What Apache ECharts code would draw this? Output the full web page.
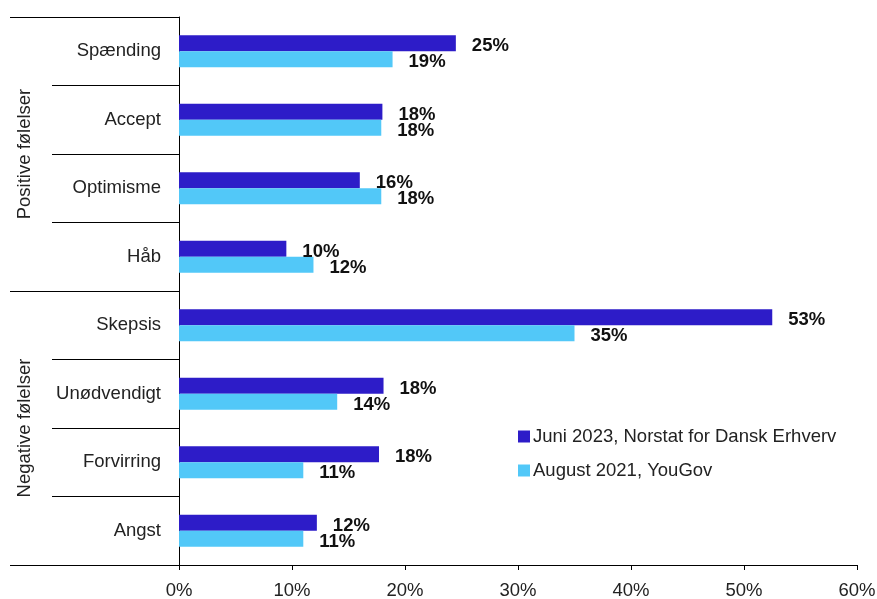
<!DOCTYPE html>
<html>
<head>
<meta charset="utf-8">
<script src="https://cdn.jsdelivr.net/npm/echarts@6/dist/echarts.min.js"></script>
<style>html,body{margin:0;padding:0;background:#fff;}#c{width:877px;height:599px;}</style>
</head>
<body>
<div id="c"></div>
<script>
const categories = ['Spænding','Accept','Optimisme','Håb','Skepsis','Unødvendigt','Forvirring','Angst'];
const groups = ['Positive følelser','Negative følelser'];
const series2023 = [24.5, 18.0, 16.0, 9.5, 52.5, 18.1, 17.7, 12.2];
const series2021 = [18.9, 17.9, 17.9, 11.9, 35.0, 14.0, 11.0, 11.0];
const seriesNames = ['Juni 2023, Norstat for Dansk Erhverv','August 2021, YouGov'];
const xTicks = [0,10,20,30,40,50,60];

const FONT = '"Liberation Sans", Arial, sans-serif';
const FS = 18.5;
const chart = echarts.init(document.getElementById('c'));
const lbl = {
  show: true, position: 'right', distance: 16, offset: [0, 3],
  formatter: p => Math.round(p.value) + '%',
  fontFamily: FONT, fontWeight: 'bold', fontSize: FS, color: '#111'
};
chart.setOption({
  animation: false,
  textStyle: {fontFamily: FONT},
  grid: {left: 179, right: 20, top: 17, bottom: 34, containLabel: false, outerBoundsMode: 'none'},
  legend: {
    orient: 'vertical', left: 513, top: 422, itemWidth: 12, itemHeight: 12, itemGap: 15,
    icon: 'rect', textStyle: {fontFamily: FONT, fontSize: FS, color: '#222', padding: [0,0,0,-2]},
    data: seriesNames
  },
  xAxis: {
    type: 'value', min: xTicks[0], max: xTicks[xTicks.length-1], interval: 10,
    axisLine: {show: true, lineStyle: {color: '#000', width: 1}},
    axisTick: {show: true, length: 5, lineStyle: {color: '#000'}},
    splitLine: {show: false},
    axisLabel: {formatter: v => v + '%', fontSize: FS, color: '#222', margin: 16, fontFamily: FONT}
  },
  yAxis: [{
    type: 'category', inverse: true, data: categories,
    axisLine: {show: true, lineStyle: {color: '#000'}},
    axisTick: {show: true, length: 127, lineStyle: {color: '#000'}},
    axisLabel: {fontSize: FS, color: '#222', margin: 18, fontFamily: FONT, padding: [4,0,0,0]}
  },{
    type: 'category', inverse: true, data: groups, position: 'left', offset: 0,
    axisLine: {show: false},
    axisTick: {show: true, length: 169, lineStyle: {color: '#000'}},
    axisLabel: {rotate: 90, fontSize: FS, color: '#222', margin: 145, fontFamily: FONT}
  }],
  series: [{
    name: seriesNames[0], type: 'bar', data: series2023, barWidth: 16, barGap: '0%',
    itemStyle: {color: '#2D1CC8'}, label: lbl
  },{
    name: seriesNames[1], type: 'bar', data: series2021, barWidth: 16, barGap: '0%',
    itemStyle: {color: '#52C8F8'}, label: lbl
  }]
});
</script>
</body>
</html>
